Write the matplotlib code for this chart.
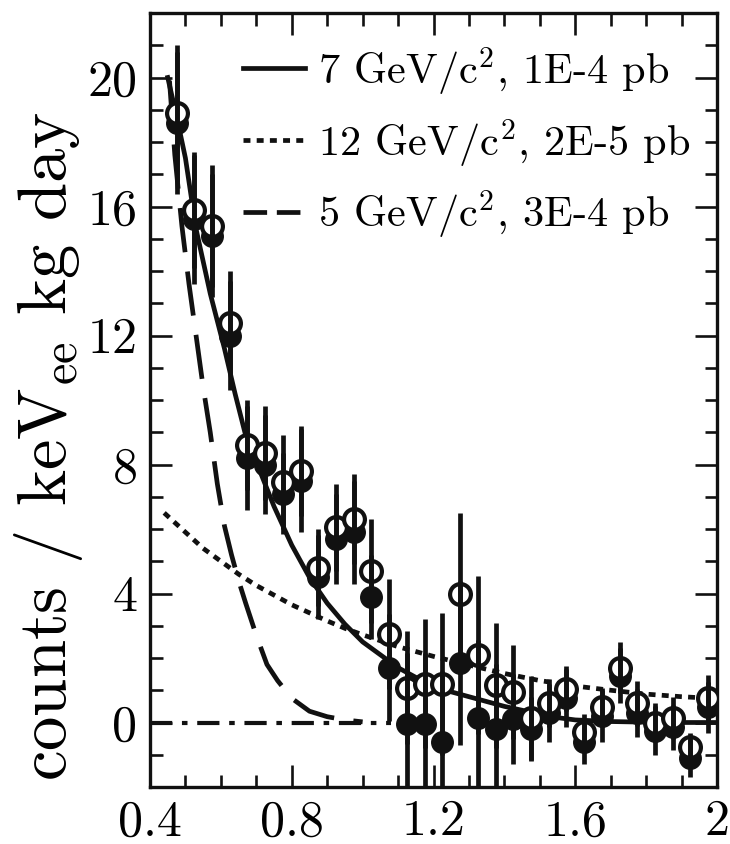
import matplotlib
matplotlib.use("Agg")
import matplotlib.pyplot as plt
from matplotlib.lines import Line2D
from matplotlib.ticker import MultipleLocator
import numpy as np

plt.rcParams["font.family"] = "cmr10"
plt.rcParams["mathtext.fontset"] = "cm"
plt.rcParams["axes.formatter.use_mathtext"] = True
plt.rcParams["lines.scale_dashes"] = False

# bin centres (keVee)
energy = [0.475, 0.525, 0.575, 0.625, 0.675, 0.725, 0.775, 0.825, 0.875, 0.925,
          0.975, 1.025, 1.075, 1.125, 1.175, 1.225, 1.275, 1.325, 1.375, 1.425,
          1.475, 1.525, 1.575, 1.625, 1.675, 1.725, 1.775, 1.825, 1.875, 1.925,
          1.975]
# open circles
counts_open = [18.9, 15.9, 15.4, 12.4, 8.6, 8.35, 7.45, 7.8, 4.8, 6.05,
               6.3, 4.7, 2.75, 1.08, 1.2, 1.2, 4.0, 2.1, 1.15, 0.95,
               0.15, 0.6, 1.05, -0.3, 0.47, 1.7, 0.6, 0.0, 0.15, -0.77,
               0.77]
err_open = [2.1, 1.8, 1.9, 1.6, 1.4, 1.45, 1.45, 1.4, 1.2, 1.35,
            1.4, 1.6, 1.7, 1.75, 2.0, 2.2, 2.5, 2.45, 1.95, 1.45,
            1.3, 0.75, 0.7, 0.55, 0.6, 0.8, 0.7, 0.6, 0.65, 0.45,
            0.7]
# filled circles
counts_filled = [18.6, 15.6, 15.1, 12.0, 8.2, 8.0, 7.1, 7.5, 4.5, 5.7,
                 5.9, 3.9, 1.7, -0.05, -0.05, -0.6, 1.85, 0.15, -0.2, 0.1,
                 -0.2, 0.3, 0.75, -0.6, 0.2, 1.45, 0.3, -0.25, -0.15, -1.1,
                 0.47]
err_filled = [2.2, 2.0, 1.9, 1.7, 1.6, 1.55, 1.25, 1.6, 1.3, 1.4,
              1.6, 1.3, 1.65, 2.2, 2.2, 2.2, 2.55, 2.4, 2.0, 1.4,
              1.0, 0.9, 0.9, 0.7, 0.8, 0.85, 0.75, 0.75, 0.7, 0.6,
              0.8]

# 7 GeV/c2, 1E-4 pb
m7_x = [0.45, 0.475, 0.50, 0.53, 0.57, 0.61, 0.64, 0.67, 0.71, 0.75,
        0.80, 0.85, 0.90, 0.95, 1.00, 1.05, 1.10, 1.15, 1.20, 1.25,
        1.30, 1.35, 1.40, 1.45, 1.50, 1.55, 1.60, 1.70, 1.80, 1.90, 2.00]
m7_y = [20.0, 18.8, 17.5, 15.3, 13.3, 11.6, 10.2, 8.9, 7.8, 6.7,
        5.5, 4.5, 3.7, 3.05, 2.5, 2.1, 1.7, 1.4, 1.15, 0.95,
        0.8, 0.65, 0.5, 0.38, 0.25, 0.15, 0.08, 0.03, 0.01, 0.0, 0.0]
# 12 GeV/c2, 2E-5 pb
m12_x = [0.44, 0.50, 0.55, 0.60, 0.65, 0.70, 0.75, 0.80, 0.85, 0.90,
         0.95, 1.00, 1.10, 1.20, 1.30, 1.40, 1.50, 1.60, 1.70, 1.80,
         1.90, 2.00]
m12_y = [6.5, 5.9, 5.4, 5.0, 4.6, 4.25, 3.95, 3.65, 3.4, 3.15,
         2.92, 2.72, 2.35, 2.05, 1.78, 1.52, 1.3, 1.13, 1.0, 0.88,
         0.8, 0.74]
# 5 GeV/c2, 3E-4 pb
m5_x = [0.455, 0.47, 0.49, 0.51, 0.53, 0.55, 0.57, 0.59, 0.61, 0.63,
        0.65, 0.67, 0.70, 0.73, 0.76, 0.80, 0.85, 0.90, 0.95, 1.00]
m5_y = [19.9, 17.6, 15.4, 13.6, 12.0, 10.4, 9.0, 7.4, 6.1, 5.2,
        4.4, 3.7, 2.7, 1.8, 1.3, 0.75, 0.35, 0.18, 0.08, 0.02]
# zero line
base_x = [0.4, 1.08]
base_y = [0.0, 0.0]

labels = [r"7 GeV/c$^2$, 1E-4 pb", r"12 GeV/c$^2$, 2E-5 pb", r"5 GeV/c$^2$, 3E-4 pb"]

fig = plt.figure(figsize=(7.3, 8.44), dpi=100)
ax = fig.add_axes([150 / 730, 1 - 787 / 844, 567 / 730, 774 / 844])

ink = "#111111"
dash5 = (0, (32, 14))
dot12 = (0, (5, 4.5))
dashdot = (0, (16, 7, 4, 7))

ax.plot(base_x, base_y, color=ink, lw=3, linestyle=dashdot, zorder=2)
ax.plot(m5_x, m5_y, color=ink, lw=3.4, linestyle=dash5, zorder=2)
ax.plot(m12_x, m12_y, color=ink, lw=3.4, linestyle=dot12, zorder=2)
ax.plot(m7_x, m7_y, color=ink, lw=3.4, linestyle="-", zorder=2)

ax.errorbar(energy, counts_filled, yerr=err_filled, fmt="none", ecolor=ink,
            elinewidth=3.4, capsize=0, zorder=5)
ax.errorbar(energy, counts_open, yerr=err_open, fmt="none", ecolor=ink,
            elinewidth=3.4, capsize=0, zorder=5)
ax.plot(energy, counts_filled, "o", color=ink, ms=15.5, zorder=3)
ax.plot(energy, counts_open, "o", mfc="white", mec=ink, mew=3, ms=15, zorder=4)

ax.set_xlim(0.4, 2.0)
ax.set_ylim(-2, 22)
ax.set_xticks([0.4, 0.8, 1.2, 1.6, 2.0])
ax.set_xticklabels(["0.4", "0.8", "1.2", "1.6", "2"])
ax.set_yticks([0, 4, 8, 12, 16, 20])
ax.set_yticklabels(["0", "4", "8", "12", "16", "20"])
ax.xaxis.set_minor_locator(MultipleLocator(0.1))
ax.yaxis.set_minor_locator(MultipleLocator(1))
ax.tick_params(which="both", direction="in", top=True, right=True, width=1.9,
               color=ink, labelsize=36, pad=9)
ax.tick_params(which="major", length=16)
ax.tick_params(which="minor", length=9)
for s in ax.spines.values():
    s.set_linewidth(2.4)
    s.set_color(ink)

ax.set_ylabel(r"counts / keV$_{\rm ee}$ kg day", fontsize=49.5)
ax.yaxis.set_label_coords(-0.115, 0.44)

handles = [
    Line2D([], [], color=ink, lw=3.4, linestyle="-"),
    Line2D([], [], color=ink, lw=3.4, linestyle=(0, (5, 4.5))),
    Line2D([], [], color=ink, lw=3.4, linestyle=(0, (17, 7))),
]
ax.legend(handles, labels, loc="upper left", bbox_to_anchor=(243 / 730, 1 - 45 / 844),
          bbox_transform=fig.transFigure, frameon=False, fontsize=30.5,
          handlelength=1.47, handletextpad=0.31, labelspacing=0.48,
          borderaxespad=0, borderpad=0)

fig.savefig("out.png", dpi=100)
